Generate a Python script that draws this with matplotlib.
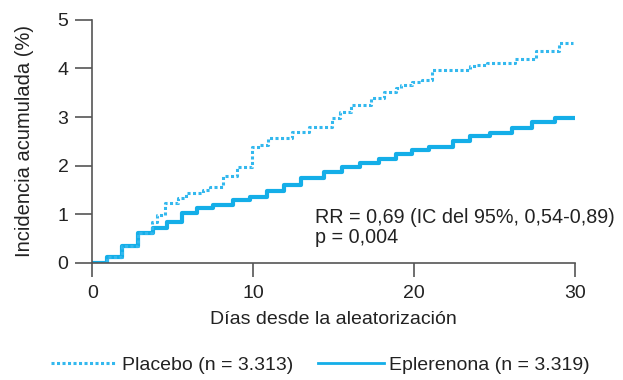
import matplotlib
matplotlib.use("Agg")
import matplotlib.pyplot as plt
from matplotlib.lines import Line2D

plt.rcParams['font.family'] = ['Liberation Sans', 'DejaVu Sans']

# Kaplan-Meier style step data: (day, cumulative incidence %)
placebo_t = [0, 0.9, 1.84, 2.86, 3.73, 4.0, 4.55, 5.3, 5.8, 6.9, 7.3, 8.15, 9.0, 9.9,
             10.4, 10.95, 12.4, 13.5, 14.9, 15.4, 16.1, 17.3, 18.1, 18.9, 19.2, 19.9,
             20.5, 21.1, 23.5, 23.9, 24.5, 26.3, 27.6, 29.0, 29.9]
placebo_y = [0, 0.12, 0.34, 0.62, 0.85, 0.99, 1.23, 1.33, 1.43, 1.50, 1.57, 1.78, 1.98, 2.39,
             2.43, 2.57, 2.70, 2.80, 2.98, 3.11, 3.25, 3.39, 3.52, 3.59, 3.66, 3.73,
             3.77, 3.97, 4.04, 4.07, 4.12, 4.19, 4.35, 4.53, 4.53]

epl_t = [0, 0.9, 1.84, 2.86, 3.8, 4.65, 5.58, 6.5, 7.5, 8.75, 9.8, 10.85, 11.9, 13.0,
         14.4, 15.5, 16.65, 17.8, 18.85, 19.9, 20.9, 22.4, 23.5, 24.7, 26.1, 27.3, 28.75, 30]
epl_y = [0, 0.12, 0.34, 0.62, 0.72, 0.85, 1.03, 1.12, 1.19, 1.30, 1.36, 1.47, 1.60, 1.75,
         1.86, 1.98, 2.06, 2.13, 2.24, 2.33, 2.39, 2.50, 2.60, 2.68, 2.77, 2.89, 2.98, 2.98]

placebo_label = 'Placebo (n = 3.313)'
epl_label = 'Eplerenona (n = 3.319)'
stats_text = 'RR = 0,69 (IC del 95%, 0,54-0,89)\np = 0,004'

c_placebo = '#33b8ee'
c_epl = '#14aee8'
c_axis = '#555555'
c_text = '#222222'

fig = plt.figure(figsize=(6.23, 3.8), dpi=100)
ax = fig.add_axes([0.148, 0.308, 0.775, 0.64])

ax.plot(epl_t, epl_y, drawstyle='steps-post', color=c_epl, lw=3.0, solid_capstyle='butt')
ax.plot(placebo_t, placebo_y, drawstyle='steps-post', color=c_placebo, lw=2.2,
        linestyle=(0, (1.0, 0.8)), dash_capstyle='butt')

ax.set_xlim(0, 30)
ax.set_ylim(0, 5)
ax.set_xticks([0, 10, 20, 30])
ax.set_yticks([0, 1, 2, 3, 4, 5])
for s in ['top', 'right']:
    ax.spines[s].set_visible(False)
for s in ['left', 'bottom']:
    ax.spines[s].set_color(c_axis)
    ax.spines[s].set_linewidth(1.2)
ax.tick_params(axis='y', direction='out', length=12, width=1.2, color=c_axis,
               labelsize=14, labelcolor=c_text, pad=5)
ax.tick_params(axis='x', direction='out', length=10, width=1.2, color=c_axis,
               labelsize=14, labelcolor=c_text, pad=6)

ax.set_xlabel('Días desde la aleatorización', fontsize=14, color=c_text, labelpad=6)
ax.set_ylabel('Incidencia acumulada (%)', fontsize=14.5, color=c_text, labelpad=17)

ax.text(13.85, 0.41, stats_text, fontsize=14.2, color=c_text, va='baseline', ha='left',
        linespacing=1.1)

handles = [Line2D([], [], color=c_placebo, lw=2.2, linestyle=(0, (1.0, 0.8))),
           Line2D([], [], color=c_epl, lw=2.0)]
fig.legend(handles, [placebo_label, epl_label], loc='center', bbox_to_anchor=(0.514, 0.039),
           ncol=2, frameon=False, fontsize=14, handlelength=3.4, handletextpad=0.25,
           columnspacing=1.25, labelcolor=c_text, borderaxespad=0, borderpad=0)

fig.savefig('out.png', dpi=100)
